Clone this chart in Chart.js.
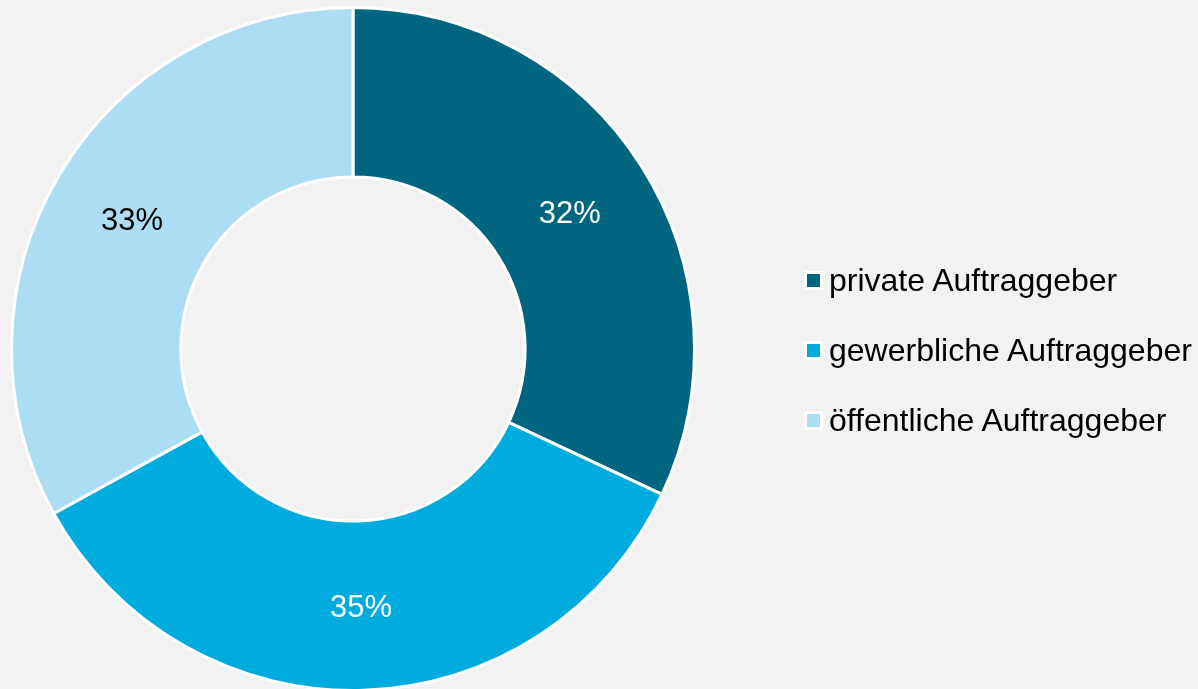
<!DOCTYPE html>
<html>
<head>
<meta charset="utf-8">
<script src="https://cdn.jsdelivr.net/npm/chart.js@4/dist/chart.umd.min.js"></script>
<style>
  html, body { margin: 0; padding: 0; background: #f2f2f2; overflow: hidden; }
  #wrap { position: absolute; left: 0; top: 0; width: 1198px; height: 696px; }
  #legend { position: absolute; left: 804px; top: 0; font-family: "Liberation Sans", Arial, sans-serif; font-size: 32px; color: #000; }
  .item { position: absolute; left: 0; white-space: nowrap; height: 36px; line-height: 36px; }
  .box { position: absolute; left: 0; top: 9px; width: 13px; height: 13px; border: 3px solid #fff; }
  .label { position: absolute; left: 25px; top: 0; }
</style>
</head>
<body>
<div id="wrap"><canvas id="chart"></canvas></div>
<div id="legend"></div>
<script>
// Anteil der Auftraggeber
const categories = ['private Auftraggeber', 'gewerbliche Auftraggeber', 'öffentliche Auftraggeber'];
const shares = [32, 35, 33];
const sliceColors = ['#00667F', '#00ACDD', '#ADDCF5'];
const labelColors = ['#ffffff', '#ffffff', '#000000'];

// percent labels in the middle of each ring segment
const sliceLabels = {
    id: 'sliceLabels',
    afterDatasetsDraw(chart) {
        const ctx = chart.ctx;
        const meta = chart.getDatasetMeta(0);
        ctx.save();
        ctx.font = '31px "Liberation Sans", Arial, sans-serif';
        ctx.textAlign = 'center';
        ctx.textBaseline = 'middle';
        meta.data.forEach((arc, i) => {
            const p = arc.tooltipPosition();
            ctx.fillStyle = labelColors[i];
            ctx.fillText(shares[i] + '%', p.x, p.y + 3);
        });
        ctx.restore();
    }
};

new Chart(document.getElementById('chart'), {
    type: 'doughnut',
    data: {
        labels: categories,
        datasets: [{
            data: shares,
            backgroundColor: sliceColors,
            borderColor: '#ffffff',
            borderWidth: 3,
            hoverBorderWidth: 3,
            hoverOffset: 0
        }]
    },
    options: {
        responsive: true,
        maintainAspectRatio: false,
        animation: false,
        cutout: '50.4%',
        layout: { padding: { left: 10, right: 502, top: 6, bottom: 4 } },
        plugins: {
            legend: { display: false },
            tooltip: { enabled: false }
        }
    },
    plugins: [sliceLabels]
});

// legend built from the same arrays
const legend = document.getElementById('legend');
const rowY = [262, 332, 402];
categories.forEach((name, i) => {
    const item = document.createElement('div');
    item.className = 'item';
    item.style.top = rowY[i] + 'px';
    item.innerHTML = '<span class="box" style="background:' + sliceColors[i] + '"></span><span class="label">' + name + '</span>';
    legend.appendChild(item);
});
</script>
</body>
</html>
